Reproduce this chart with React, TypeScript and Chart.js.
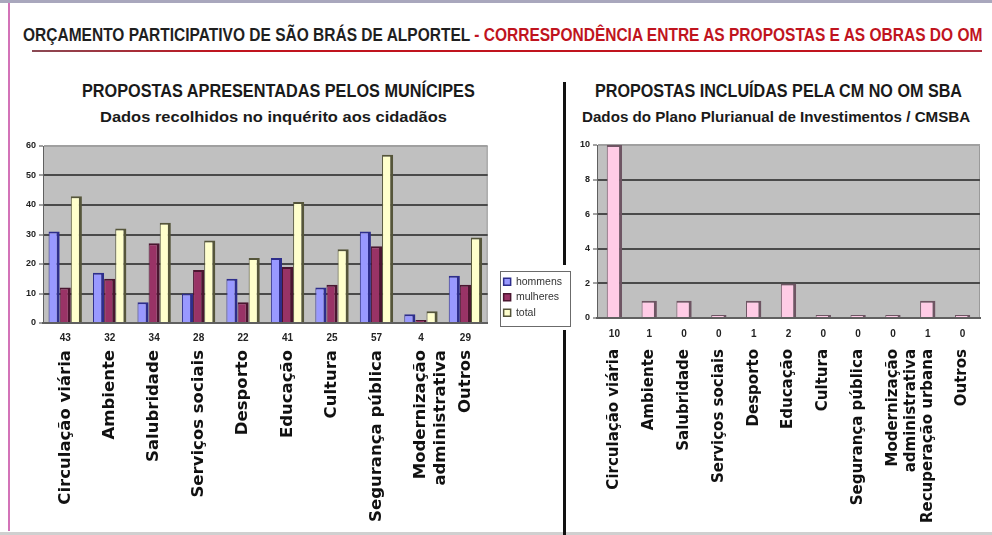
import React, { useEffect, useLayoutEffect, useRef } from "react";
import { Chart, registerables } from "chart.js";

Chart.register(...registerables);

// ---------------- DATA ----------------
const leftCategories: (string | string[])[] = [
  "Circulação viária",
  "Ambiente",
  "Salubridade",
  "Serviços sociais",
  "Desporto",
  "Educação",
  "Cultura",
  "Segurança pública",
  ["Modernização", "administrativa"],
  "Outros",
];
const leftHomens = [31, 17, 7, 10, 15, 22, 12, 31, 3, 16];
const leftMulheres = [12, 15, 27, 18, 7, 19, 13, 26, 1, 13];
const leftTotal = [43, 32, 34, 28, 22, 41, 25, 57, 4, 29];
const leftNumberLabels = ["43", "32", "34", "28", "22", "41", "25", "57", "4", "29"];
const leftSeriesNames = ["hommens", "mulheres", "total"];
const leftYMax = 60;
const leftYStep = 10;

const rightCategories: (string | string[])[] = [
  "Circulação viária",
  "Ambiente",
  "Salubridade",
  "Serviços sociais",
  "Desporto",
  "Educação",
  "Cultura",
  "Segurança pública",
  ["Modernização", "administrativa"],
  "Recuperação urbana",
  "Outros",
];
const rightValues = [10, 1, 1, 0, 1, 2, 0, 0, 0, 1, 0];
const rightNumberLabels = ["10", "1", "0", "0", "1", "2", "0", "0", "0", "1", "0"];
const rightYMax = 10;
const rightYStep = 2;

const headerDark = "ORÇAMENTO PARTICIPATIVO DE SÃO BRÁS DE ALPORTEL ";
const headerRed = "- CORRESPONDÊNCIA ENTRE AS PROPOSTAS E AS OBRAS DO OM";
const leftTitle = "PROPOSTAS APRESENTADAS PELOS MUNÍCIPES";
const leftSubtitle = "Dados recolhidos no inquérito aos cidadãos";
const rightTitle = "PROPOSTAS INCLUÍDAS PELA CM NO OM SBA";
const rightSubtitle = "Dados do Plano Plurianual de Investimentos / CMSBA";

// ---------------- STYLE ----------------
const FONT = '"Liberation Sans", Arial, sans-serif';
const WIDE = '"DejaVu Sans", "Liberation Sans", sans-serif';
Chart.defaults.font.family = FONT;

const plotBg = {
  id: "plotBg",
  beforeDraw(chart: any) {
    const { ctx, chartArea } = chart;
    if (!chartArea) return;
    ctx.save();
    ctx.fillStyle = "#c0c0c0";
    ctx.fillRect(chartArea.left, chartArea.top, chartArea.right - chartArea.left, chartArea.bottom - chartArea.top);
    ctx.strokeStyle = "#9a9a9a";
    ctx.lineWidth = 1;
    ctx.strokeRect(chartArea.left + 0.5, chartArea.top + 0.5, chartArea.right - chartArea.left - 1, chartArea.bottom - chartArea.top - 1);
    ctx.restore();
  },
};

const legendShift = {
  id: "legendShift",
  afterLayout(chart: any) {
    const lg = chart.legend;
    if (!lg || !chart.options.plugins.legend.display) return;
    lg.left += 11;
    lg.right += 11;
  },
};

const legendBorder = {
  id: "legendBorder",
  afterDraw(chart: any) {
    const lg = chart.legend;
    if (!lg || !lg.legendHitBoxes || !lg.legendHitBoxes.length || !chart.options.plugins.legend.display) return;
    let x0 = Infinity, y0 = Infinity, x1 = -Infinity, y1 = -Infinity;
    lg.legendHitBoxes.forEach((b: any) => {
      x0 = Math.min(x0, b.left);
      y0 = Math.min(y0, b.top);
      x1 = Math.max(x1, b.left + b.width);
      y1 = Math.max(y1, b.top + b.height);
    });
    const { ctx } = chart;
    ctx.save();
    ctx.strokeStyle = "#6b6b6b";
    ctx.lineWidth = 1;
    const l = Math.round(x0 - 4), t = Math.round(y0 - 6);
    ctx.strokeRect(l + 0.5, t + 0.5, Math.round(x1 + 8) - l, Math.round(y1 + 8) - t);
    ctx.restore();
  },
};

function gridColor(max: number) {
  return (c: any) => (c.tick && c.tick.value === max ? "#a0a0a0" : c.tick && c.tick.value === 0 ? "#707070" : "#4a4a4a");
}

function FitText(props: { text: React.ReactNode; left: number; top: number; width: number; size: number; family: string; color?: string }) {
  const ref = useRef<HTMLDivElement>(null);
  useLayoutEffect(() => {
    const el = ref.current;
    if (!el) return;
    el.style.transform = "none";
    const w = el.offsetWidth;
    if (w > 0) el.style.transform = `scaleX(${props.width / w})`;
  });
  return (
    <div
      ref={ref}
      style={{
        position: "absolute",
        left: props.left,
        top: props.top,
        whiteSpace: "nowrap",
        fontFamily: props.family,
        fontWeight: "bold",
        fontSize: props.size,
        lineHeight: `${props.size}px`,
        color: props.color || "#1a1a1a",
        transformOrigin: "left top",
        display: "inline-block",
      }}
    >
      {props.text}
    </div>
  );
}

function makeXAxes(labels: (string | string[])[], nameSize: number, numPad: number, namePad: number, namesHeight: number) {
  return {
    x: {
      type: "category",
      position: "bottom",
      weight: 0,
      offset: true,
      grid: { display: false, drawTicks: false },
      border: { display: true, color: "#606060", width: 2 },
      ticks: { color: "#222", font: { size: 10, weight: "bold" }, padding: numPad, maxRotation: 0, minRotation: 0, autoSkip: false },
      afterFit: (s: any) => { s.height = 24; },
    },
    names: {
      type: "category",
      position: "bottom",
      weight: 1,
      labels: labels as any,
      offset: true,
      grid: { display: false, drawTicks: false },
      border: { display: false },
      ticks: { color: "#111", font: { size: nameSize, weight: "bold", family: WIDE }, padding: namePad, maxRotation: 90, minRotation: 90, autoSkip: false },
      afterFit: (s: any) => { s.height = namesHeight; },
    },
  };
}

function LeftChart() {
  const ref = useRef<HTMLCanvasElement>(null);
  useEffect(() => {
    if (!ref.current) return;
    const chart = new Chart(ref.current, {
      type: "bar",
      data: {
        labels: leftNumberLabels,
        datasets: [
          { label: leftSeriesNames[0], data: leftHomens, backgroundColor: "#9999ff", borderColor: "#2e2e8c", borderWidth: { top: 2, right: 3, left: 1, bottom: 0 } },
          { label: leftSeriesNames[1], data: leftMulheres, backgroundColor: "#993366", borderColor: "#4a1630", borderWidth: { top: 2, right: 3, left: 1, bottom: 0 } },
          { label: leftSeriesNames[2], data: leftTotal, backgroundColor: "#ffffcc", borderColor: "#55553a", borderWidth: { top: 2, right: 3, left: 1, bottom: 0 } },
        ],
      },
      options: {
        animation: false,
        responsive: false,
        devicePixelRatio: 1,
        layout: { padding: { top: 11, right: 14, left: 0, bottom: 0 } },
        datasets: { bar: { categoryPercentage: 0.75, barPercentage: 1 } },
        plugins: {
          legend: {
            display: true,
            position: "right",
            align: "end",
            fullSize: false,
            labels: { boxWidth: 7, boxHeight: 7, padding: 5, color: "#333", font: { size: 10.5, family: FONT } },
          },
          tooltip: { enabled: false },
        },
        scales: {
          ...makeXAxes(leftCategories, 16.5, 9, 3, 400 - 188 - 24),
          y: {
            min: 0,
            max: leftYMax,
            ticks: { stepSize: leftYStep, color: "#222", font: { size: 9, weight: "bold" }, padding: 3 },
            grid: { color: gridColor(leftYMax), lineWidth: 2, tickLength: 4, tickColor: "#444", tickWidth: 1 },
            border: { display: true, color: "#606060", width: 1 },
            afterFit: (s: any) => { s.width = 33; },
          },
        },
      } as any,
      plugins: [plotBg, legendShift, legendBorder],
    });
    return () => chart.destroy();
  }, []);
  return <canvas ref={ref} width={565} height={400} style={{ position: "absolute", left: 10, top: 135, width: 565, height: 400 }} />;
}

function RightChart() {
  const ref = useRef<HTMLCanvasElement>(null);
  useEffect(() => {
    if (!ref.current) return;
    const chart = new Chart(ref.current, {
      type: "bar",
      data: {
        labels: rightNumberLabels,
        datasets: [
          { label: "CM", data: rightValues, backgroundColor: "#ffcce6", borderColor: "#6e5563", borderWidth: { top: 2, right: 3, left: 1, bottom: 0 }, minBarLength: 3 },
        ],
      },
      options: {
        animation: false,
        responsive: false,
        devicePixelRatio: 1,
        layout: { padding: { top: 10, right: 12, left: 0, bottom: 0 } },
        datasets: { bar: { categoryPercentage: 0.8, barPercentage: 0.55 } },
        plugins: { legend: { display: false }, tooltip: { enabled: false } },
        scales: {
          ...makeXAxes(rightCategories, 15, 10, 7, 400 - 183 - 24),
          y: {
            min: 0,
            max: rightYMax,
            ticks: { stepSize: rightYStep, color: "#222", font: { size: 9, weight: "bold" }, padding: 3 },
            grid: { color: gridColor(rightYMax), lineWidth: 2, tickLength: 4, tickColor: "#444", tickWidth: 1 },
            border: { display: true, color: "#606060", width: 1 },
            afterFit: (s: any) => { s.width = 27; },
          },
        },
      } as any,
      plugins: [plotBg],
    });
    return () => chart.destroy();
  }, []);
  return <canvas ref={ref} width={422} height={400} style={{ position: "absolute", left: 570, top: 135, width: 422, height: 400 }} />;
}

export default function App() {
  return (
    <div style={{ position: "fixed", left: 0, top: 0, width: 992, height: 535, background: "#fff", overflow: "hidden" }}>
      <div style={{ position: "absolute", left: 0, top: 0, width: 992, height: 3, background: "#a9a7bd" }} />
      <div style={{ position: "absolute", left: 8, top: 3, width: 2, height: 528, background: "#d373b8" }} />
      <div style={{ position: "absolute", left: 0, top: 532, width: 992, height: 3, background: "#d0d0d0" }} />

      <FitText
        left={23}
        top={26}
        width={959}
        size={18}
        family={FONT}
        text={
          <>
            <span style={{ color: "#1f1f1f" }}>{headerDark}</span>
            <span style={{ color: "#c0141e" }}>{headerRed}</span>
          </>
        }
      />
      <div style={{ position: "absolute", left: 32, top: 50, width: 950, height: 2, background: "linear-gradient(to right, #8a4a55, #c0141e 20%, #c0141e 85%, #b03040)" }} />

      <FitText left={82} top={82} width={393} size={18} family={FONT} text={leftTitle} />
      <FitText left={100} top={109} width={347} size={15} family={FONT} text={leftSubtitle} />
      <FitText left={595} top={82} width={367} size={18} family={FONT} text={rightTitle} />
      <FitText left={582} top={109} width={388} size={15} family={FONT} text={rightSubtitle} />

      <div style={{ position: "absolute", left: 563, top: 82, width: 3, height: 183, background: "#111" }} />
      <div style={{ position: "absolute", left: 563, top: 330, width: 3, height: 205, background: "#111" }} />

      <LeftChart />
      <RightChart />
    </div>
  );
}
